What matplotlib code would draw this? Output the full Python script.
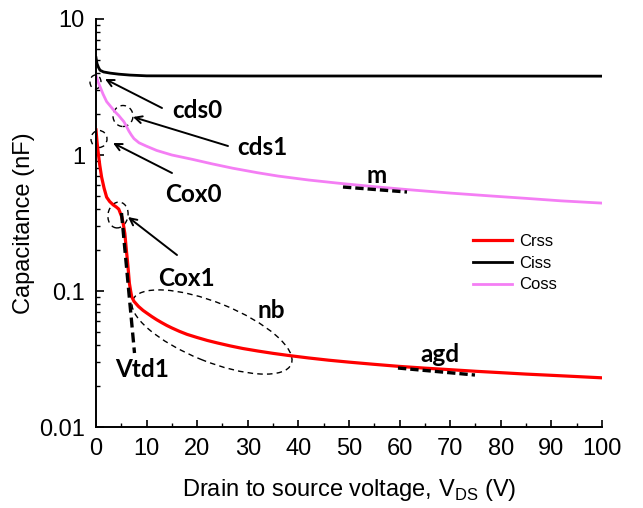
import matplotlib.pyplot as plt
from matplotlib.patches import Ellipse
from matplotlib.transforms import Affine2D
from matplotlib.ticker import MultipleLocator, LogLocator, NullFormatter, FixedFormatter, FixedLocator

# C-V characteristics (capacitance in nF vs drain-source voltage in V)
v_crss = [0, 0.2, 0.45, 0.75, 1.1, 1.6, 2.1, 2.7, 3.4, 4.0, 4.5, 5.1, 5.4, 5.7, 6.0, 6.2,
          6.4, 6.6, 6.85, 7.05, 7.5, 8.4, 9.3, 10, 11, 12, 13, 14, 15, 16.5, 18, 20, 22,
          24, 26.5, 29, 32, 35, 38, 42, 46, 50, 55, 60, 65, 70, 75, 80, 85, 90, 95, 100]
crss = [1.53, 1.25, 1.03, 0.84, 0.69, 0.57, 0.49, 0.455, 0.43, 0.415, 0.40, 0.35, 0.31,
        0.265, 0.20, 0.169, 0.14, 0.114, 0.10, 0.091, 0.084, 0.077, 0.072, 0.069, 0.065,
        0.0615, 0.0585, 0.0558, 0.0535, 0.0505, 0.048, 0.0455, 0.0433, 0.0415, 0.0395,
        0.0378, 0.0362, 0.0348, 0.0336, 0.0322, 0.031, 0.030, 0.0289, 0.0279, 0.0271,
        0.0264, 0.0257, 0.0251, 0.0245, 0.024, 0.0235, 0.023]

v_ciss = [0, 0.2, 0.5, 0.8, 1.5, 2.8, 4.5, 6.7, 10, 30, 60, 100]
ciss = [5.2, 4.7, 4.4, 4.2, 4.08, 4.0, 3.93, 3.87, 3.82, 3.81, 3.81, 3.8]

v_coss = [0, 0.4, 0.8, 1.4, 2.1, 3.0, 3.75, 4.5, 5.0, 5.5, 6.0, 6.5, 7.0, 7.5, 8.5, 10,
          12, 15, 19, 23, 27, 32, 36, 42, 48, 55, 62, 70, 78, 85, 92, 100]
coss = [3.85, 3.45, 3.18, 2.8, 2.47, 2.25, 2.08, 1.95, 1.85, 1.76, 1.63, 1.5, 1.4, 1.32,
        1.23, 1.16, 1.08, 1.0, 0.93, 0.86, 0.8, 0.74, 0.70, 0.655, 0.62, 0.585, 0.555,
        0.525, 0.5, 0.48, 0.46, 0.443]

x_ticks = list(range(0, 101, 10))
y_ticks = [0.01, 0.1, 1, 10]
y_ticklabels = ['0.01', '0.1', '1', '10']

fig = plt.figure(figsize=(6.43, 5.08), dpi=100)
ax = fig.add_axes([0.1493, 0.1594, 0.7869, 0.8032])

ax.semilogy(v_crss, crss, color='#ff0000', lw=2.3, label='Crss')
ax.semilogy(v_ciss, ciss, color='black', lw=2.0, label='Ciss')
ax.semilogy(v_coss, coss, color='#f47ef4', lw=2.0, label='Coss')

ax.set_xlim(0, 100)
ax.set_ylim(0.01, 10)
ax.xaxis.set_major_locator(FixedLocator(x_ticks))
ax.xaxis.set_minor_locator(MultipleLocator(5))
ax.yaxis.set_major_locator(FixedLocator(y_ticks))
ax.yaxis.set_major_formatter(FixedFormatter(y_ticklabels))
ax.yaxis.set_minor_locator(LogLocator(base=10, subs=range(2, 10)))
ax.yaxis.set_minor_formatter(NullFormatter())

for s in ['top', 'right']:
    ax.spines[s].set_visible(False)
for s in ['left', 'bottom']:
    ax.spines[s].set_linewidth(1.4)

ax.tick_params(which='major', direction='in', length=5.4, width=1.2, labelsize=17,
               pad=8)
ax.tick_params(which='minor', direction='in', length=2.6, width=1.0)
for lab in ax.get_xticklabels() + ax.get_yticklabels():
    lab.set_family('Liberation Sans')

ax.set_xlabel('Drain to source voltage, V$_{\\mathregular{DS}}$ (V)',
              family='Liberation Sans', fontsize=17, labelpad=12)
ax.set_ylabel('Capacitance (nF)', family='Liberation Sans', fontsize=17, labelpad=3)

leg = ax.legend(loc='upper left', bbox_to_anchor=(0.745, 0.473), frameon=False,
                prop={'family': 'Liberation Sans', 'size': 12},
                handlelength=2.35, handletextpad=0.4, labelspacing=0.4,
                borderpad=0, borderaxespad=0)

# annotation layer: units of the axes box (506 x 408)
box = Affine2D().scale(1 / 506, 1 / 408) + ax.transAxes
lab_font = dict(family='Lato', weight='bold', fontsize=17.5, transform=box,
                va='baseline', ha='left')
arrow = dict(arrowstyle='->,head_length=0.5,head_width=0.25', color='black', lw=1.4,
             shrinkA=0, shrinkB=0)

ellipses = [((-0.5, 345), 11, 14, 0), ((27, 311), 20, 21, 0), ((3, 288), 16, 17, 0),
            ((22, 212), 20, 26, -10), ((116, 95), 171, 59, -22)]
for c, w, h, ang in ellipses:
    ax.add_patch(Ellipse(c, w, h, angle=ang, transform=box, fill=False, ec='black',
                         lw=1.0, ls=(0, (4, 3)), clip_on=False))

arrows = [((9, 348), (66, 319)), ((37, 310), (132, 281)), ((17, 284), (76, 254)),
          ((32, 210), (81, 172))]
for head, tail in arrows:
    ax.annotate('', xy=head, xytext=tail, xycoords=box, textcoords=box,
                arrowprops=arrow)

# tangent / threshold markers
ax.plot([25.5, 38.5], [214, 74], transform=box, color='black', lw=2.4, ls=(0, (3, 1.5)))
ax.plot([247, 311], [240, 235], transform=box, color='black', lw=2.4, ls=(0, (2.5, 1.2)))
ax.plot([302, 379], [59, 52], transform=box, color='black', lw=2.4, ls=(0, (2.5, 1.2)))

labels = [('cds0', 76, 309), ('cds1', 141, 272), ('Cox0', 69, 225), ('Cox1', 62, 141),
          ('Vtd1', 19, 50), ('nb', 162, 109), ('m', 271, 244), ('agd', 324, 65)]
for s, x, y in labels:
    ax.text(x, y, s, **lab_font)

fig.savefig('out.png', dpi=100)
